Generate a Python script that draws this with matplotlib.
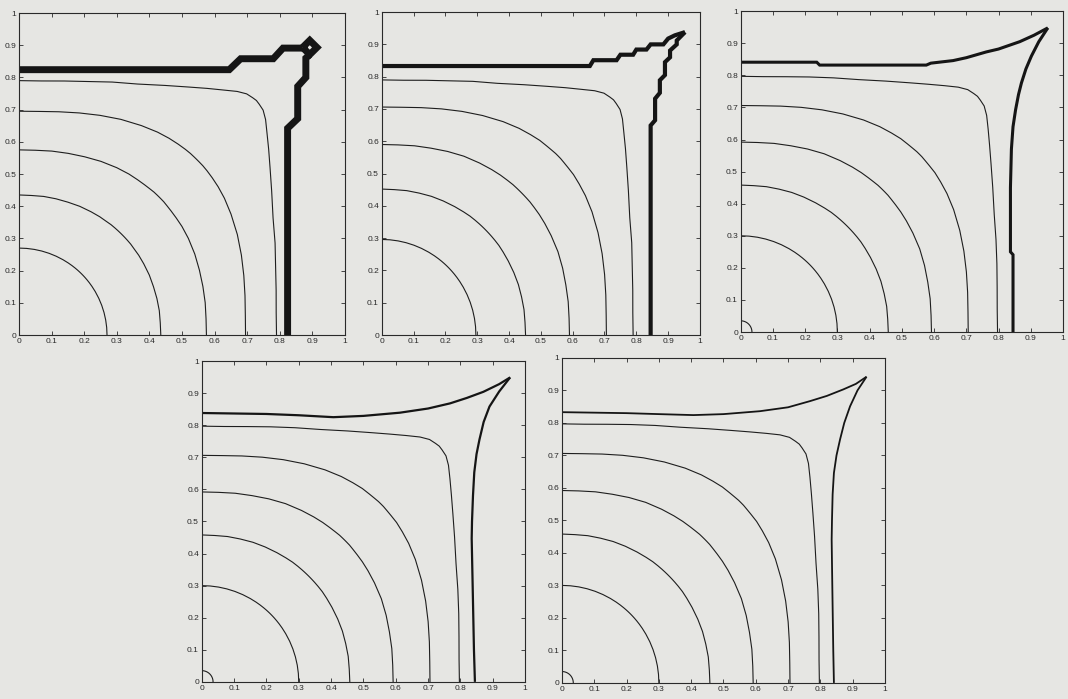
import numpy as np
import matplotlib
matplotlib.use("Agg")
import matplotlib.pyplot as plt

plt.rcParams['font.family'] = ['Liberation Sans', 'DejaVu Sans']

# angles (deg) of the radius readings, 0..45; fronts are mirrored about the diagonal
angles = [0, 5, 10, 15, 20, 25, 30, 34, 37, 39.5, 41.5, 43, 44.2, 45]

# thin fronts, radius read at each angle
p1_fronts = [
    [0.27] * 14,
    [0.435, 0.435, 0.437, 0.438, 0.439, 0.441, 0.442, 0.443, 0.443, 0.444, 0.444, 0.444, 0.444, 0.444],
    [0.575, 0.576, 0.580, 0.584, 0.589, 0.595, 0.600, 0.603, 0.604, 0.605, 0.606, 0.607, 0.607, 0.607],
    [0.695, 0.697, 0.704, 0.714, 0.726, 0.739, 0.751, 0.760, 0.765, 0.768, 0.770, 0.771, 0.771, 0.771],
    [0.790, 0.792, 0.801, 0.815, 0.836, 0.860, 0.895, 0.929, 0.959, 0.986, 1.010, 1.024, 1.028, 1.030],
]
p2_fronts = [
    [0.296] * 14,
    [0.452, 0.452, 0.454, 0.455, 0.457, 0.458, 0.459, 0.460, 0.461, 0.461, 0.461, 0.461, 0.461, 0.461],
    [0.590, 0.591, 0.595, 0.599, 0.605, 0.611, 0.615, 0.618, 0.620, 0.621, 0.622, 0.622, 0.622, 0.622],
    [0.706, 0.708, 0.715, 0.725, 0.737, 0.750, 0.763, 0.772, 0.777, 0.781, 0.782, 0.783, 0.784, 0.784],
    [0.790, 0.792, 0.801, 0.815, 0.836, 0.860, 0.895, 0.929, 0.959, 0.986, 1.010, 1.024, 1.028, 1.030],
]
p345_fronts = [
    [0.035] * 14,
    [0.30] * 14,
    [0.458, 0.458, 0.460, 0.461, 0.463, 0.464, 0.465, 0.466, 0.467, 0.467, 0.467, 0.467, 0.467, 0.467],
    [0.592, 0.593, 0.597, 0.601, 0.607, 0.613, 0.617, 0.620, 0.622, 0.623, 0.624, 0.625, 0.625, 0.625],
    [0.706, 0.708, 0.715, 0.725, 0.737, 0.750, 0.763, 0.772, 0.777, 0.781, 0.782, 0.783, 0.784, 0.784],
    [0.797, 0.799, 0.808, 0.823, 0.843, 0.868, 0.903, 0.937, 0.967, 0.995, 1.019, 1.033, 1.037, 1.039],
]

# thick front: top branch and right branch
p1_top_x = [0, 0.645, 0.68, 0.78, 0.81, 0.87]
p1_top_y = [0.824, 0.824, 0.858, 0.858, 0.891, 0.891]
p1_side_x = [0.824, 0.824, 0.855, 0.855, 0.88, 0.88, 0.892]
p1_side_y = [0, 0.642, 0.672, 0.772, 0.80, 0.86, 0.871]
p1_loop_x = [0.87, 0.892, 0.914, 0.892, 0.87]
p1_loop_y = [0.893, 0.915, 0.893, 0.871, 0.893]

p2_top_x = [0, 0.654, 0.665, 0.738, 0.75, 0.79, 0.80, 0.832, 0.845, 0.885, 0.90, 0.921, 0.953]
p2_top_y = [0.833, 0.833, 0.851, 0.851, 0.868, 0.868, 0.884, 0.884, 0.90, 0.90, 0.918, 0.928, 0.938]
p2_side_x = [0.845, 0.845, 0.859, 0.859, 0.874, 0.874, 0.89, 0.89, 0.906, 0.906, 0.927, 0.927, 0.953]
p2_side_y = [0, 0.649, 0.665, 0.732, 0.75, 0.789, 0.805, 0.845, 0.86, 0.881, 0.90, 0.912, 0.938]

p3_top_x = [0, 0.236, 0.245, 0.576, 0.59, 0.659, 0.70, 0.762, 0.80, 0.866, 0.91, 0.953]
p3_top_y = [0.841, 0.841, 0.832, 0.832, 0.838, 0.846, 0.855, 0.873, 0.882, 0.905, 0.925, 0.948]
p3_side_x = [0.845, 0.845, 0.837, 0.837, 0.84, 0.845, 0.853, 0.862, 0.871, 0.885, 0.902, 0.925, 0.953]
p3_side_y = [0, 0.241, 0.25, 0.45, 0.57, 0.64, 0.693, 0.74, 0.776, 0.82, 0.86, 0.905, 0.948]

p4_top_x = [0, 0.2, 0.3, 0.407, 0.5, 0.613, 0.70, 0.768, 0.82, 0.871, 0.92, 0.954]
p4_top_y = [0.838, 0.835, 0.831, 0.825, 0.829, 0.839, 0.852, 0.868, 0.885, 0.904, 0.928, 0.949]
p4_side_x = [0.845, 0.842, 0.838, 0.835, 0.836, 0.839, 0.843, 0.85, 0.859, 0.872, 0.89, 0.92, 0.954]
p4_side_y = [0, 0.1, 0.3, 0.447, 0.5, 0.58, 0.653, 0.71, 0.755, 0.81, 0.858, 0.905, 0.949]

p5_top_x = [0, 0.2, 0.3, 0.407, 0.5, 0.613, 0.70, 0.768, 0.82, 0.871, 0.91, 0.943]
p5_top_y = [0.833, 0.83, 0.827, 0.824, 0.827, 0.836, 0.848, 0.867, 0.883, 0.903, 0.92, 0.942]
p5_side_x = [0.842, 0.84, 0.837, 0.835, 0.836, 0.838, 0.842, 0.85, 0.861, 0.874, 0.892, 0.915, 0.943]
p5_side_y = [0, 0.1, 0.3, 0.441, 0.5, 0.58, 0.646, 0.70, 0.749, 0.80, 0.851, 0.9, 0.942]

tick_vals = [0, 0.1, 0.2, 0.3, 0.4, 0.5, 0.6, 0.7, 0.8, 0.9, 1]
tick_labels = ["0", "0.1", "0.2", "0.3", "0.4", "0.5", "0.6", "0.7", "0.8", "0.9", "1"]

bg = '#e6e6e3'
ink = '#1e1e1e'

fig = plt.figure(figsize=(10.68, 6.99), dpi=100, facecolor=bg)

panels = [
    ([0.0178, 0.5207, 0.3052, 0.4607], p1_fronts, [(p1_top_x, p1_top_y), (p1_side_x, p1_side_y), (p1_loop_x, p1_loop_y)], 5.0),
    ([0.3574, 0.5207, 0.2980, 0.4620], p2_fronts, [(p2_top_x, p2_top_y), (p2_side_x, p2_side_y)], 3.0),
    ([0.6935, 0.5250, 0.3018, 0.4590], p345_fronts, [(p3_top_x, p3_top_y), (p3_side_x, p3_side_y)], 2.2),
    ([0.1889, 0.0245, 0.3027, 0.4590], p345_fronts, [(p4_top_x, p4_top_y), (p4_side_x, p4_side_y)], 1.6),
    ([0.5262, 0.0230, 0.3024, 0.4650], p345_fronts, [(p5_top_x, p5_top_y), (p5_side_x, p5_side_y)], 1.3),
]

full_angles = angles + [90 - a for a in reversed(angles[:-1])]
th = np.radians(full_angles)

for rect, fronts, thick, lw in panels:
    ax = fig.add_axes(rect)
    ax.set_facecolor(bg)
    for radii in fronts:
        r = np.array(radii + list(reversed(radii[:-1])))
        ax.plot(r * np.cos(th), r * np.sin(th), color=ink, lw=0.8)
    for xs, ys in thick:
        ax.plot(xs, ys, color='#151515', lw=lw, solid_joinstyle='miter', solid_capstyle='butt')
    ax.set_xlim(0, 1)
    ax.set_ylim(0, 1)
    ax.set_xticks(tick_vals)
    ax.set_yticks(tick_vals)
    ax.set_xticklabels(tick_labels)
    ax.set_yticklabels(tick_labels)
    ax.tick_params(direction='in', top=True, right=True, length=3, width=0.6,
                   labelsize=6, pad=2, colors='#2a2a2a')
    for s in ax.spines.values():
        s.set_linewidth(0.8)
        s.set_color('#2a2a2a')

fig.savefig('out.png', dpi=100, facecolor=bg)
